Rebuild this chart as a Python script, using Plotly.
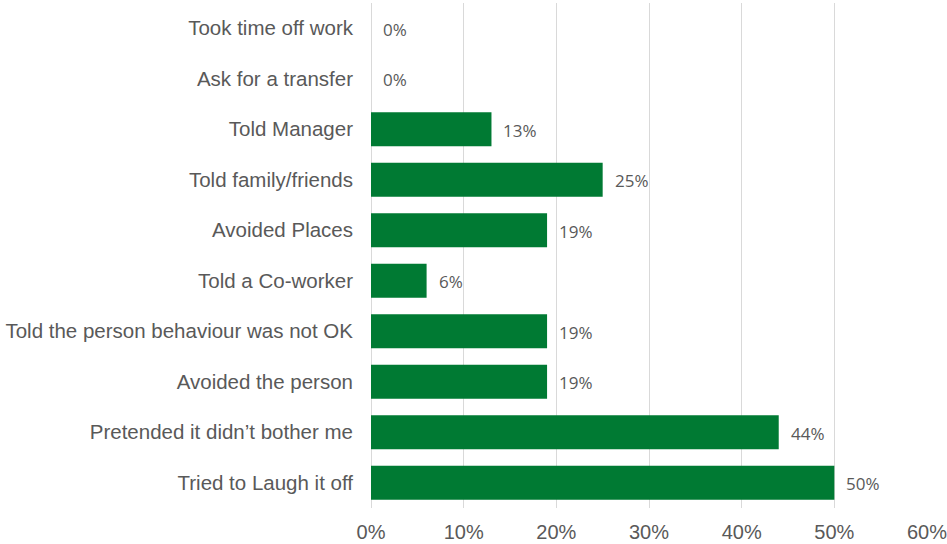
import plotly.graph_objects as go

# Responses to unwanted behaviour, share of respondents (%)
categories = [
    "Tried to Laugh it off",
    "Pretended it didn\u2019t bother me",
    "Avoided the person",
    "Told the person behaviour was not OK",
    "Told a Co-worker",
    "Avoided Places",
    "Told family/friends",
    "Told Manager",
    "Ask for a transfer",
    "Took time off work",
]
values = [50, 44, 19, 19, 6, 19, 25, 13, 0, 0]
x_ticks = [0, 10, 20, 30, 40, 50, 60]
x_tick_labels = ["0%", "10%", "20%", "30%", "40%", "50%", "60%"]

BAR_GREEN = "#007A33"
TEXT_GREY = "#595959"
GRID_GREY = "#D9D9D9"
LABEL_FONT = "Liberation Sans, Arial"

fig = go.Figure(
    go.Bar(
        x=values,
        y=categories,
        orientation="h",
        marker=dict(color=BAR_GREEN, line=dict(width=0)),
        hoverinfo="skip",
    )
)

# value labels just past each bar's end
for cat, val in zip(categories, values):
    fig.add_annotation(
        x=val,
        y=cat,
        text=f"{val}%",
        showarrow=False,
        xanchor="left",
        yanchor="middle",
        xshift=10,
        yshift=-1,
        font=dict(family="Open Sans", size=17, color=TEXT_GREY),
    )

fig.update_layout(
    width=947,
    height=544,
    margin=dict(l=371, r=20, t=3, b=36),
    paper_bgcolor="white",
    plot_bgcolor="white",
    bargap=0.33,
    showlegend=False,
    font=dict(family=LABEL_FONT, size=20, color=TEXT_GREY),
)

fig.update_xaxes(
    range=[0, 60],
    tickvals=x_ticks,
    ticktext=x_tick_labels,
    showgrid=True,
    gridcolor=GRID_GREY,
    gridwidth=1,
    zeroline=True,
    zerolinecolor=GRID_GREY,
    zerolinewidth=1,
    showline=False,
    ticks="",
    ticklabelstandoff=10,
    ticklabeloverflow="allow",
    automargin=False,
    tickfont=dict(family=LABEL_FONT, size=20, color=TEXT_GREY),
    fixedrange=True,
)

fig.update_yaxes(
    categoryorder="array",
    categoryarray=categories,
    showgrid=False,
    zeroline=False,
    showline=False,
    ticks="",
    ticklabelstandoff=17,
    automargin=False,
    tickfont=dict(family=LABEL_FONT, size=20.5, color=TEXT_GREY),
    fixedrange=True,
)

fig.write_html("out.html")
